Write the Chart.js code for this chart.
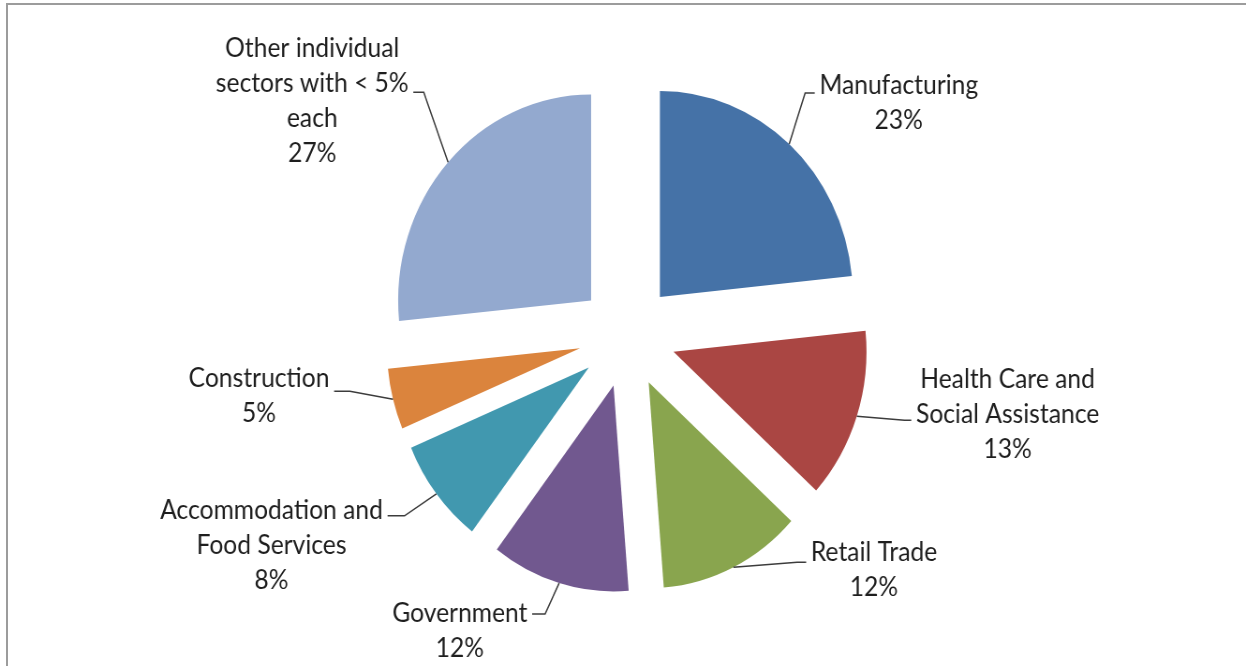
<!DOCTYPE html>
<html lang="en">
<head>
    <meta charset="UTF-8">
    <title>Employment by Sector</title>
    <script src="https://cdn.jsdelivr.net/npm/chart.js@4"></script>
    <style>
        html, body { margin: 0; padding: 0; background: #fff; overflow: hidden; }
        #frame {
            position: absolute; left: 6px; top: 3px; width: 1400px; height: 700px;
            border-top: 2px solid #9c9c9c; border-left: 2px solid #9c9c9c;
        }
        /* chart is laid out wider than the window and squeezed back horizontally */
        #wrap {
            position: absolute; left: 0; top: 0; width: 1330px; height: 666px;
            transform-origin: 0 0; transform: scaleX(0.93684);
        }
    </style>
</head>
<body>
    <div id="frame"></div>
    <div id="wrap"><canvas id="sectorChart" width="1330" height="666"></canvas></div>

    <script>
        const categories = [
            ['Manufacturing'],
            ['Health Care and', 'Social Assistance'],
            ['Retail Trade'],
            ['Government'],
            ['Accommodation and', 'Food Services'],
            ['Construction'],
            ['Other individual', 'sectors with < 5%', 'each']
        ];
        const shares = [23.4, 13.4, 12.0, 11.6, 8.3, 4.8, 26.6];
        const sliceColors = ['#4572A7', '#AA4643', '#89A54E', '#71588F', '#4198AF', '#DB843D', '#93A9CF'];

        const EXPLODE = 52;        // px each slice is pulled out from the centre
        const LINE_HEIGHT = 35;
        const LABEL_FONT = '26.3px Lato';

        // label block centre (dx, dy) and leader knee (kx, ky), relative to each slice's outer midpoint
        const labelLayout = [
            { dx: 117,  dy: -41, kx: 17,  ky: -51 },
            { dx: 161,  dy: -2,  kx: 51,  ky: 4 },
            { dx: 150,  dy: 3,   kx: 68,  ky: -5 },
            { dx: -106, dy: 48,  kx: -15, ky: 31 },
            { dx: -176, dy: 52,  kx: -34, ky: 22 },
            { dx: -143, dy: -3,  kx: -46, ky: -8 },
            { dx: -145, dy: -61, kx: -26, ky: -70 }
        ];

        const total = shares.reduce((a, b) => a + b, 0);

        // draws every slice shifted outward along its own bisector
        const explodedSlices = {
            id: 'explodedSlices',
            beforeDatasetDraw(chart, args) {
                const ctx = chart.ctx;
                args.meta.data.forEach(arc => {
                    const mid = (arc.startAngle + arc.endAngle) / 2;
                    ctx.save();
                    ctx.translate(Math.cos(mid) * EXPLODE, Math.sin(mid) * EXPLODE);
                    arc.draw(ctx, chart.chartArea);
                    ctx.restore();
                });
                return false;
            }
        };

        // name + percentage labels with leader lines
        const sliceLabels = {
            id: 'sliceLabels',
            afterDatasetsDraw(chart) {
                const ctx = chart.ctx;
                const meta = chart.getDatasetMeta(0);
                ctx.save();
                ctx.font = LABEL_FONT;
                ctx.textAlign = 'center';
                ctx.textBaseline = 'middle';
                meta.data.forEach((arc, i) => {
                    const mid = (arc.startAngle + arc.endAngle) / 2;
                    const reach = arc.outerRadius + EXPLODE;
                    const px = arc.x + Math.cos(mid) * reach;
                    const py = arc.y + Math.sin(mid) * reach;
                    const lay = labelLayout[i];
                    const lines = categories[i].concat([Math.round(shares[i] / total * 100) + '%']);
                    const cx = px + lay.dx;
                    const cy = py + lay.dy;
                    const blockW = Math.max(...lines.map(t => ctx.measureText(t).width));
                    const kneeX = px + lay.kx;
                    const kneeY = py + lay.ky;
                    const attachX = lay.dx > 0 ? cx - blockW / 2 - 5 : cx + blockW / 2 + 5;

                    ctx.strokeStyle = '#3c3c3c';
                    ctx.lineWidth = 1.5;
                    ctx.beginPath();
                    ctx.moveTo(px, py);
                    ctx.lineTo(kneeX, kneeY);
                    ctx.lineTo(attachX, kneeY);
                    ctx.stroke();

                    ctx.fillStyle = '#1e1e1e';
                    lines.forEach((t, j) => {
                        ctx.fillText(t, cx, cy + (j - (lines.length - 1) / 2) * LINE_HEIGHT);
                    });
                });
                ctx.restore();
            }
        };

        new Chart(document.getElementById('sectorChart'), {
            type: 'pie',
            data: {
                labels: categories,
                datasets: [{
                    data: shares,
                    backgroundColor: sliceColors,
                    borderWidth: 0,
                    hoverOffset: 0
                }]
            },
            options: {
                responsive: false,
                animation: false,
                radius: 206,
                layout: { padding: { left: 9, right: 0, top: 5, bottom: 0 } },
                plugins: {
                    legend: { display: false },
                    tooltip: { enabled: false }
                }
            },
            plugins: [explodedSlices, sliceLabels]
        });
    </script>
</body>
</html>
